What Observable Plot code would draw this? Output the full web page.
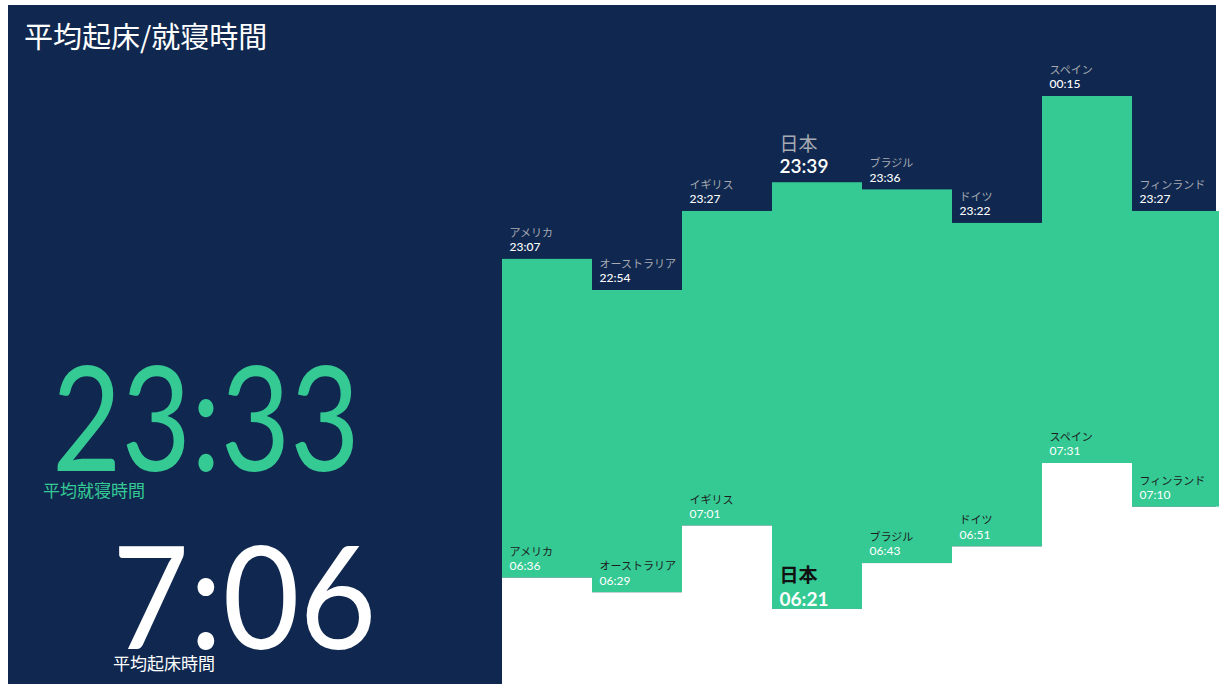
<!DOCTYPE html>
<html><head><meta charset="utf-8">
<script src="https://cdn.jsdelivr.net/npm/d3@7"></script>
<script src="https://cdn.jsdelivr.net/npm/@observablehq/plot@0.6"></script>
<style>
html,body{margin:0;padding:0;background:#fff;}
#wrap{position:relative;width:1219px;height:684px;overflow:hidden;background:#fff;}
#navy{position:absolute;left:8px;top:5px;width:1208px;height:690px;background:#10284f;}
#chart{position:absolute;left:0;top:0;}
.lbl{position:absolute;white-space:nowrap;}
#title{left:24px;top:14px;font:400 29px "Noto Sans CJK JP",sans-serif;color:#fff;}
#bigBed{left:52px;top:357px;font:400 146px Lato,"Noto Sans",sans-serif;line-height:0.8;color:#35c994;transform:scaleX(0.82);transform-origin:left top;}
#bedCap{left:43px;top:481px;font:400 17px "Noto Sans CJK JP",sans-serif;line-height:1;color:#35c994;}
#bigWake{left:112px;top:537px;font:400 143px Lato,"Noto Sans",sans-serif;line-height:0.8;color:#fff;transform:scaleX(0.93);transform-origin:left top;}
#wakeCap{left:113px;top:654px;font:400 17px "Noto Sans CJK JP",sans-serif;line-height:1;color:#fff;}
</style></head>
<body>
<div id="wrap">
  <div id="navy"></div>
  <div id="chart"></div>
  <div class="lbl" id="title">平均起床/就寝時間</div>
  <div class="lbl" id="bigBed">23:33</div>
  <div class="lbl" id="bedCap">平均就寝時間</div>
  <div class="lbl" id="bigWake">7:06</div>
  <div class="lbl" id="wakeCap">平均起床時間</div>
</div>
<script>
const countries = ["アメリカ","オーストラリア","イギリス","日本","ブラジル","ドイツ","スペイン","フィンランド"];
const bedtimes  = ["23:07","22:54","23:27","23:39","23:36","23:22","00:15","23:27"];
const waketimes = ["06:36","06:29","07:01","06:21","06:43","06:51","07:31","07:10"];
const highlight = "日本";

const green = "#35c994";
const font = 'Lato, "Noto Sans CJK JP", sans-serif';

function toMin(s, isBed) {
  const [h, m] = s.split(":").map(Number);
  let v = h * 60 + m;
  if (isBed && h < 12) v += 24 * 60;
  return v;
}
const data = countries.map((c, i) => ({
  country: c,
  bed: toMin(bedtimes[i], true),
  wake: toMin(waketimes[i], false),
  bedLabel: bedtimes[i],
  wakeLabel: waketimes[i],
  floor: 345
}));
const normal = d => d.country !== highlight;
const hi = d => d.country === highlight;

const chart = Plot.plot({
  width: 1219,
  height: 684,
  margin: 0,
  style: {background: "transparent", fontFamily: font},
  x: {type: "band", domain: countries, range: [502, 1222], padding: 0, axis: null},
  y: {type: "linear", domain: [345, 451, 1374, 1455], range: [684, 463, 290, 96], axis: null},
  marks: [
    Plot.barY(data, {x: "country", y1: "wake", y2: "bed", fill: green, inset: 0}),
    Plot.barY(data, {x: "country", y1: "floor", y2: "wake", fill: "#ffffff", inset: 0}),
    // top labels
    Plot.text(data, {filter: normal, x: "country", y: "bed", text: "country", dx: -38, dy: -26, textAnchor: "start", fill: "#a7aab2", fontSize: 11}),
    Plot.text(data, {filter: normal, x: "country", y: "bed", text: "bedLabel", dx: -38, dy: -12, textAnchor: "start", fill: "#ffffff", fontSize: 12, fontWeight: 500}),
    Plot.text(data, {filter: hi, x: "country", y: "bed", text: "country", dx: -38, dy: -38, textAnchor: "start", fill: "#a7aab2", fontSize: 19}),
    Plot.text(data, {filter: hi, x: "country", y: "bed", text: "bedLabel", dx: -38, dy: -16, textAnchor: "start", fill: "#ffffff", fontSize: 19, fontWeight: 600}),
    // bottom labels
    Plot.text(data, {filter: normal, x: "country", y: "wake", text: "country", dx: -38, dy: -26, textAnchor: "start", fill: "#1c1c1c", fontSize: 11}),
    Plot.text(data, {filter: normal, x: "country", y: "wake", text: "wakeLabel", dx: -38, dy: -12, textAnchor: "start", fill: "#ffffff", fontSize: 12}),
    Plot.text(data, {filter: hi, x: "country", y: "wake", text: "country", dx: -38, dy: -34, textAnchor: "start", fill: "#111111", fontSize: 19, fontWeight: 700}),
    Plot.text(data, {filter: hi, x: "country", y: "wake", text: "wakeLabel", dx: -38, dy: -10, textAnchor: "start", fill: "#ffffff", fontSize: 19, fontWeight: 700})
  ]
});
document.getElementById("chart").appendChild(chart);
</script>
</body></html>
